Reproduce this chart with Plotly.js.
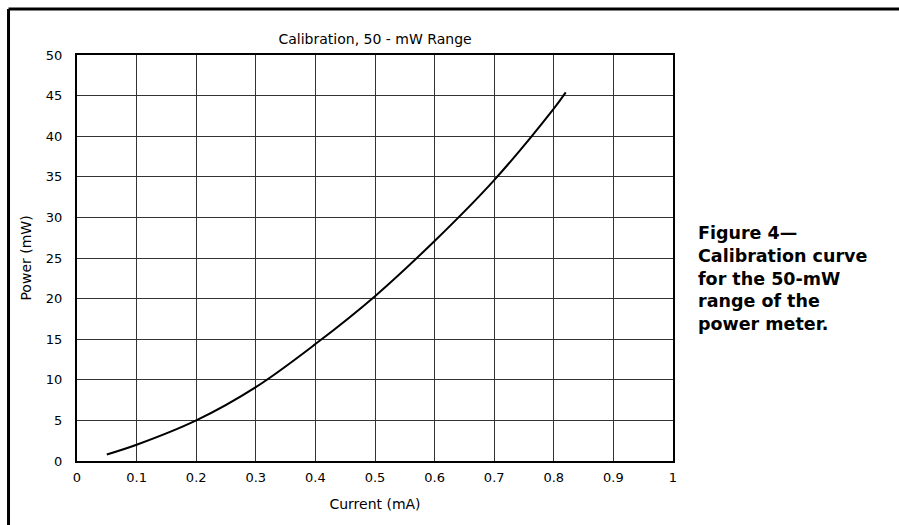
<!DOCTYPE html>
<html>
<head>
<meta charset="utf-8">
<script src="https://cdn.plot.ly/plotly-3.0.1.min.js"></script>
<style>
  html, body { margin: 0; padding: 0; background: #fff; }
  #chart { width: 899px; height: 525px; }
</style>
</head>
<body>
<div id="chart"></div>
<script>
// Current (mA) readings along the calibration curve
const currentMA = [0.05, 0.1, 0.2, 0.3, 0.4, 0.5, 0.6, 0.7, 0.8, 0.82];
// Power (mW)
const powerMW = [0.8, 2.0, 5.0, 9.1, 14.4, 20.3, 27.1, 34.6, 43.4, 45.4];

const xTicks = [0, 0.1, 0.2, 0.3, 0.4, 0.5, 0.6, 0.7, 0.8, 0.9, 1];
const xTickText = ['0', '0.1', '0.2', '0.3', '0.4', '0.5', '0.6', '0.7', '0.8', '0.9', '1'];
const yTicks = [0, 5, 10, 15, 20, 25, 30, 35, 40, 45, 50];

const chartTitle = 'Calibration, 50 - mW Range';
const xTitle = 'Current (mA)';
const yTitle = 'Power (mW)';
const caption = 'Figure 4—<br>Calibration curve<br>for the 50-mW<br>range of the<br>power meter.';

const font = 'DejaVu Sans, sans-serif';

const trace = {
  x: currentMA,
  y: powerMW,
  type: 'scatter',
  mode: 'lines',
  line: { color: '#000', width: 2, shape: 'spline', smoothing: 1 },
  hoverinfo: 'skip',
  showlegend: false
};

const axisCommon = {
  showline: true,
  linecolor: '#000',
  linewidth: 2,
  mirror: true,
  showgrid: true,
  gridcolor: '#333',
  gridwidth: 1,
  zeroline: false,
  ticks: 'outside',
  tickcolor: 'rgba(0,0,0,0)',
  tickfont: { family: font, size: 13, color: '#000' }
};

const layout = {
  width: 899,
  height: 525,
  margin: { l: 77, r: 226, t: 55, b: 64 },
  paper_bgcolor: '#fff',
  plot_bgcolor: '#fff',
  title: {
    text: chartTitle,
    font: { family: font, size: 14, color: '#000' },
    x: 0.4172, xanchor: 'center',
    y: 0.925, yanchor: 'middle'
  },
  xaxis: Object.assign({}, axisCommon, {
    range: [0, 1],
    tickvals: xTicks,
    ticktext: xTickText,
    ticklen: 3,
    title: { text: xTitle, font: { family: font, size: 14, color: '#000' }, standoff: 16 }
  }),
  yaxis: Object.assign({}, axisCommon, {
    range: [0, 50],
    tickvals: yTicks,
    ticklen: 10,
    title: { text: yTitle, font: { family: font, size: 14, color: '#000' }, standoff: 11 }
  }),
  annotations: [{
    text: '<b>' + caption + '</b>',
    xref: 'paper', yref: 'paper',
    x: 1.039, y: 0.590,
    xanchor: 'left', yanchor: 'top',
    align: 'left',
    showarrow: false,
    font: { family: 'DejaVu Sans, sans-serif', size: 17.5, color: '#000' }
  }],
  shapes: [
    { type: 'line', xref: 'paper', yref: 'paper', x0: -0.1149, x1: -0.1149, y0: 1.1133, y1: -0.2, line: { color: '#000', width: 3 } },
    { type: 'line', xref: 'paper', yref: 'paper', x0: -0.1149, x1: 1.4, y0: 1.1133, y1: 1.1133, line: { color: '#000', width: 3 } }
  ]
};

Plotly.newPlot('chart', [trace], layout, { staticPlot: true, displayModeBar: false });
</script>
</body>
</html>
